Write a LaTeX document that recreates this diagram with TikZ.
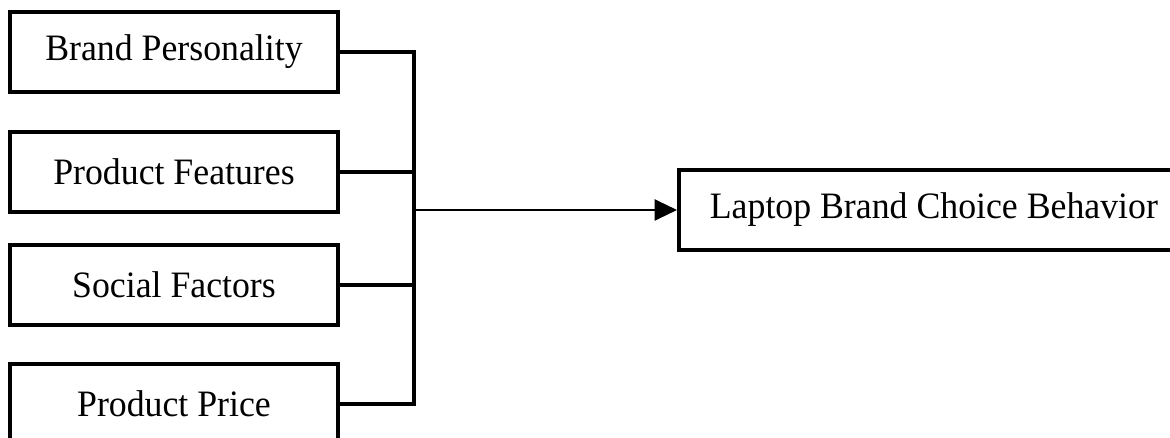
\documentclass[tikz,border=0pt]{standalone}
\usepackage{fontspec}
\setmainfont{Liberation Serif}[FakeStretch=0.96]
\usetikzlibrary{arrows.meta}

\begin{document}
\begin{tikzpicture}[x=0.025cm,y=-0.025cm,
    factor/.style={draw,line width=2.6pt,minimum width=8.2cm,minimum height=2cm,
      inner sep=0pt,font=\fontsize{26.5}{30}\selectfont},
    outcome/.style={factor,minimum width=12.75cm,anchor=west},
    link/.style={line width=2.2pt},
    flow/.style={line width=1.7pt,-{Triangle[length=16pt,width=15pt]}}]
\useasboundingbox[fill=white] (0,0) rectangle (1170,438);
\node[factor] (bp) at (174,52) {Brand Personality};
\node[factor] (pf) at (174,172) {Product Features};
\node[factor] (sf) at (174,285) {Social Factors};
\node[factor] (pp) at (174,404) {Product Price};
\node[outcome] (lb) at (677,210) {Laptop Brand Choice Behavior};
\coordinate (bus) at (414,210);
% lines to the bus
\draw[link] (bp.east) -- (bp.east -| bus) -- (pp.east -| bus) -- (pp.east);
\draw[link] (pf.east) -- (pf.east -| bus);
\draw[link] (sf.east) -- (sf.east -| bus);
\draw[flow] (bus) -- (lb.west);
\end{tikzpicture}
\end{document}
